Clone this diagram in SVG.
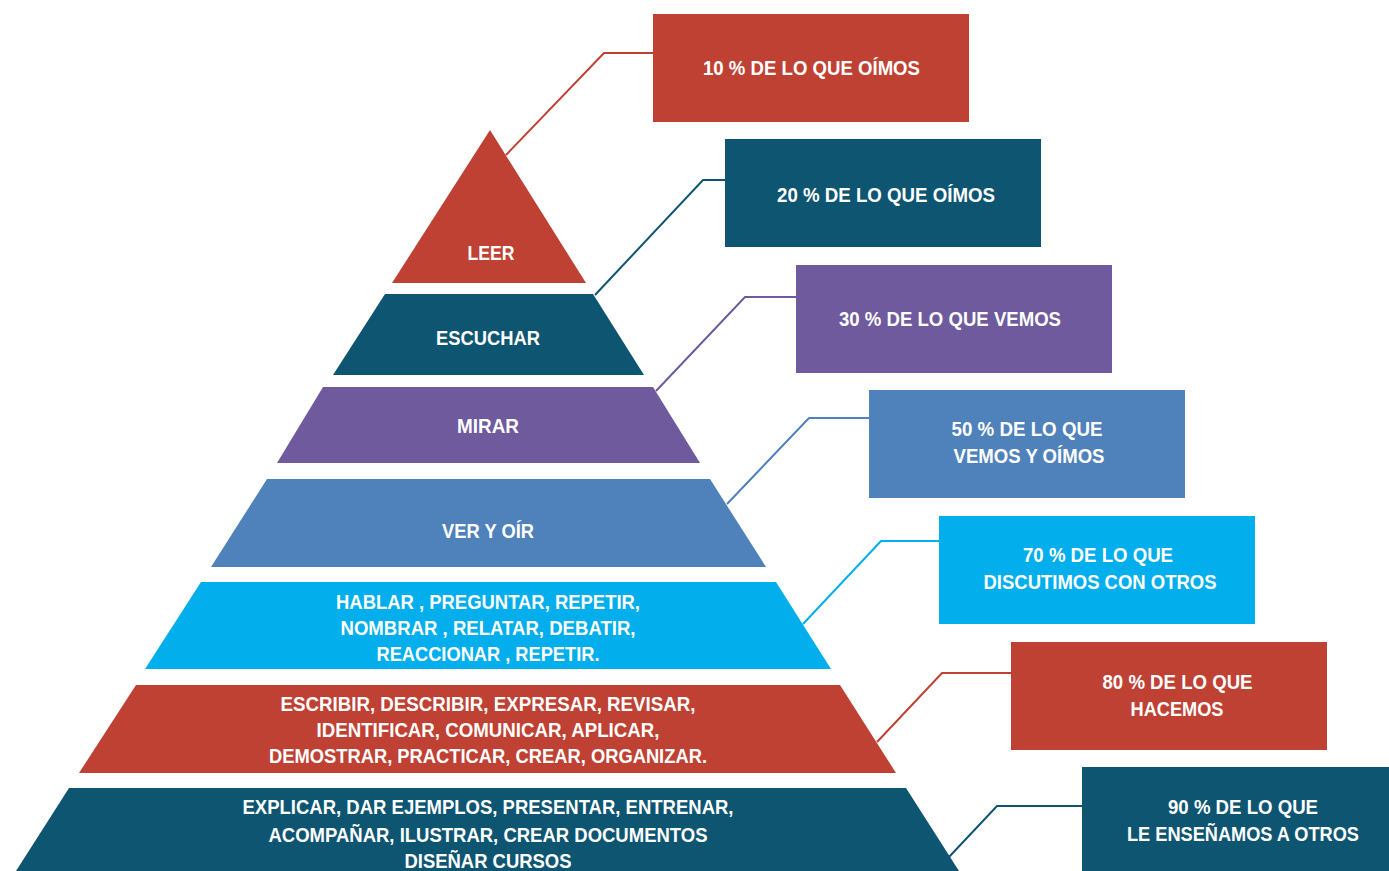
<svg xmlns="http://www.w3.org/2000/svg" width="1389" height="871" viewBox="0 0 1389 871">
  <style>
    text { font-family: "Liberation Sans", Arial, sans-serif; font-weight: bold; font-size: 21px; fill: #ffffff; text-anchor: middle; }
    .red { fill: #bf4134; }
    .teal { fill: #0e5572; }
    .purple { fill: #6e5a9d; }
    .steel { fill: #4f82ba; }
    .cyan { fill: #02aeec; }
    .links polyline { fill: none; stroke-width: 2; stroke-linejoin: miter; }
  </style>
  <rect width="1389" height="871" fill="#ffffff"/>

  <!-- pyramid tiers -->
  <g id="tier-leer">
    <polygon class="red" points="490,130 586,283 392,283"/>
    <text x="491" y="259.5" textLength="47" lengthAdjust="spacingAndGlyphs">LEER</text>
  </g>
  <g id="tier-escuchar">
    <polygon class="teal" points="385,294 593,294 644,375 333,375"/>
    <text x="488" y="344.5" textLength="104" lengthAdjust="spacingAndGlyphs">ESCUCHAR</text>
  </g>
  <g id="tier-mirar">
    <polygon class="purple" points="323,387 653,387 700,463 277,463"/>
    <text x="488" y="432.5" textLength="62" lengthAdjust="spacingAndGlyphs">MIRAR</text>
  </g>
  <g id="tier-ver-oir">
    <polygon class="steel" points="267,479 710,479 766,567 211,567"/>
    <text x="488" y="537.5" textLength="92" lengthAdjust="spacingAndGlyphs">VER Y OÍR</text>
  </g>
  <g id="tier-hablar">
    <polygon class="cyan" points="201,582 776,582 831,669 145,669"/>
    <text x="488" y="608.5" textLength="304" lengthAdjust="spacingAndGlyphs">HABLAR , PREGUNTAR, REPETIR,</text>
    <text x="488" y="635" textLength="295" lengthAdjust="spacingAndGlyphs">NOMBRAR , RELATAR, DEBATIR,</text>
    <text x="488" y="661" textLength="223" lengthAdjust="spacingAndGlyphs">REACCIONAR , REPETIR.</text>
  </g>
  <g id="tier-escribir">
    <polygon class="red" points="136,685 840,685 896,773 79,773"/>
    <text x="488" y="711" textLength="415" lengthAdjust="spacingAndGlyphs">ESCRIBIR, DESCRIBIR, EXPRESAR, REVISAR,</text>
    <text x="488" y="737" textLength="343" lengthAdjust="spacingAndGlyphs">IDENTIFICAR, COMUNICAR, APLICAR,</text>
    <text x="488" y="763" textLength="438" lengthAdjust="spacingAndGlyphs">DEMOSTRAR, PRACTICAR, CREAR, ORGANIZAR.</text>
  </g>
  <g id="tier-explicar">
    <polygon class="teal" points="69,788 906,788 959,871 16,871"/>
    <text x="488" y="814" textLength="491" lengthAdjust="spacingAndGlyphs">EXPLICAR, DAR EJEMPLOS, PRESENTAR, ENTRENAR,</text>
    <text x="488" y="841.5" textLength="439" lengthAdjust="spacingAndGlyphs">ACOMPAÑAR, ILUSTRAR, CREAR DOCUMENTOS</text>
    <text x="488" y="868" textLength="167" lengthAdjust="spacingAndGlyphs">DISEÑAR CURSOS</text>
  </g>

  <!-- retention boxes -->
  <g id="box-10">
    <rect class="red" x="653" y="14" width="316" height="108"/>
    <text x="811.5" y="75" textLength="217" lengthAdjust="spacingAndGlyphs">10 % DE LO QUE OÍMOS</text>
  </g>
  <g id="box-20">
    <rect class="teal" x="725" y="139" width="316" height="108"/>
    <text x="886" y="201.5" textLength="218" lengthAdjust="spacingAndGlyphs">20 % DE LO QUE OÍMOS</text>
  </g>
  <g id="box-30">
    <rect class="purple" x="796" y="265" width="316" height="108"/>
    <text x="950" y="325.5" textLength="222" lengthAdjust="spacingAndGlyphs">30 % DE LO QUE VEMOS</text>
  </g>
  <g id="box-50">
    <rect class="steel" x="869" y="390" width="316" height="108"/>
    <text x="1027" y="436" textLength="151" lengthAdjust="spacingAndGlyphs">50 % DE LO QUE</text>
    <text x="1029" y="462.5" textLength="151" lengthAdjust="spacingAndGlyphs">VEMOS Y OÍMOS</text>
  </g>
  <g id="box-70">
    <rect class="cyan" x="939" y="516" width="316" height="108"/>
    <text x="1098" y="562" textLength="150" lengthAdjust="spacingAndGlyphs">70 % DE LO QUE</text>
    <text x="1100" y="588.5" textLength="233" lengthAdjust="spacingAndGlyphs">DISCUTIMOS CON OTROS</text>
  </g>
  <g id="box-80">
    <rect class="red" x="1011" y="642" width="316" height="108"/>
    <text x="1177.5" y="688.5" textLength="150" lengthAdjust="spacingAndGlyphs">80 % DE LO QUE</text>
    <text x="1177" y="715.5" textLength="93" lengthAdjust="spacingAndGlyphs">HACEMOS</text>
  </g>
  <g id="box-90">
    <rect class="teal" x="1082" y="767" width="307" height="104"/>
    <text x="1243" y="814" textLength="150" lengthAdjust="spacingAndGlyphs">90 % DE LO QUE</text>
    <text x="1243" y="841" textLength="232" lengthAdjust="spacingAndGlyphs">LE ENSEÑAMOS A OTROS</text>
  </g>

  <!-- leader lines from tiers to boxes -->
  <g id="connectors" class="links">
    <polyline stroke="#bf4134" points="506,155 604,53 653,53"/>
    <polyline stroke="#0e5572" points="595,295 703,180 725,180"/>
    <polyline stroke="#6e5a9d" points="656,391 745,297 796,297"/>
    <polyline stroke="#4f82ba" points="727,504 809,418 869,418"/>
    <polyline stroke="#02aeec" points="803,624 881,541 939,541"/>
    <polyline stroke="#bf4134" points="877,742 942,673 1011,673"/>
    <polyline stroke="#0e5572" points="949,857 997,806 1082,806"/>
  </g>
</svg>
